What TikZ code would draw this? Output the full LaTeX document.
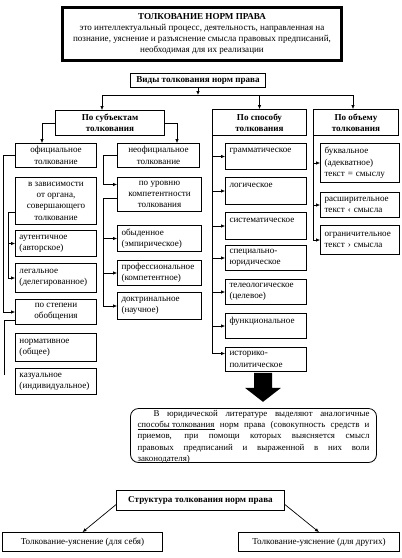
\documentclass[tikz,border=0pt]{standalone}
\usepackage{fontspec}
\setmainfont{Liberation Serif}
\usetikzlibrary{arrows.meta}
\pgfdeclarelayer{edgelayer}
\pgfdeclarelayer{nodelayer}
\pgfsetlayers{edgelayer,nodelayer,main}
\newcommand{\fs}{\fontsize{9.1}{11.3}\selectfont}
\newcommand{\fr}{\fontsize{8.9}{11.3}\selectfont}
\tikzstyle{none}=[inner sep=0pt, font=\fr]
\tikzstyle{box}=[draw=black, fill=white, line width=0.7pt, inner sep=1pt, align=center, font=\fs]
\tikzstyle{head}=[box, font=\fs\bfseries]
\tikzstyle{title}=[box, line width=3pt]
\tikzstyle{rbox}=[draw=black, line width=0.8pt, rounded corners=8pt]
\tikzstyle{edge}=[draw=black, line width=0.7pt]
\tikzstyle{arrow}=[edge, -{Latex[length=4pt,width=3.5pt]}]
\tikzset{lbox/.style={box, align=left, inner xsep=4pt, text width=#1}}

\begin{document}
\begin{tikzpicture}[x=1pt, y=-1pt]
				\useasboundingbox (0,0) rectangle (402,558);
				\begin{pgfonlayer}{nodelayer}
					\node [style=title, minimum width=279, minimum height=53] (0) at (202, 34) {\textbf{ТОЛКОВАНИЕ НОРМ ПРАВА}\\это интеллектуальный процесс, деятельность, направленная на\\познание, уяснение и разъяснение смысла правовых предписаний,\\необходимая для их реализации};
					\node [style=head, minimum width=135, minimum height=14] (1) at (198, 80.5) {Виды толкования норм права};
					\node [style=head, minimum width=109, minimum height=25] (2) at (110, 123) {По субъектам\\толкования};
					\node [style=head, minimum width=94, minimum height=26] (3) at (259.5, 122.5) {По способу\\толкования};
					\node [style=head, minimum width=85, minimum height=26] (4) at (356, 122.5) {По объему\\толкования};
					\node [style=box, minimum width=81, minimum height=24] (5) at (56, 155.5) {официальное\\толкование};
					\node [style=box, minimum width=82, minimum height=24] (6) at (158.5, 155.5) {неофициальное\\толкование};
					\node [style=box, minimum width=81, minimum height=47] (7) at (56, 201) {в зависимости\\от органа,\\совершающего\\толкование};
					\node [lbox=73, minimum height=26] (8) at (56, 243.5) {аутентичное\\(авторское)};
					\node [lbox=73, minimum height=29] (9) at (56, 278) {легальное\\(делегированное)};
					\node [style=box, minimum width=81, minimum height=25] (10) at (56, 312) {по степени\\обобщения};
					\node [lbox=73, minimum height=28] (11) at (56, 347.5) {нормативное\\(общее)};
					\node [lbox=73, minimum height=26] (12) at (56, 381.5) {казуальное\\(индивидуальное)};
					\node [style=box, minimum width=84, minimum height=34] (13) at (159.5, 194.5) {по уровню\\компетентности\\толкования};
					\node [lbox=76, minimum height=26] (14) at (159.5, 238.5) {обыденное\\(эмпирическое)};
					\node [lbox=76, minimum height=25] (15) at (159.5, 273) {профессиональное\\(компетентное)};
					\node [lbox=76, minimum height=27] (16) at (159.5, 306) {доктринальное\\(научное)};
					\node [lbox=73, minimum height=26] (17) at (266, 156.5) {грамматическое\\\mbox{}};
					\node [lbox=73, minimum height=27] (18) at (266, 191) {логическое\\\mbox{}};
					\node [lbox=73, minimum height=27] (19) at (266, 226) {систематическое\\\mbox{}};
					\node [lbox=73, minimum height=25] (20) at (266, 258) {специально-\\юридическое};
					\node [lbox=73, minimum height=25] (21) at (266, 292) {телеологическое\\(целевое)};
					\node [lbox=73, minimum height=25] (22) at (266, 326) {функциональное\\\mbox{}};
					\node [lbox=73, minimum height=24] (23) at (266, 359.5) {историко-\\политическое};
					\node [lbox=71, minimum height=39] (24) at (360, 163) {буквальное\\(адекватное)\\текст = смыслу};
					\node [lbox=71, minimum height=25] (25) at (360, 205) {расширительное\\текст ‹ смысла};
					\node [lbox=71, minimum height=29] (26) at (360, 240) {ограничительное\\текст › смысла};
					\node [style=rbox, minimum width=246, minimum height=54] (27) at (253.5, 435.5) {};
					\node [style=none, anchor=north, text width=232pt, align=justify] (28) at (253.5, 410) {\hspace*{16pt}В юридической литературе выделяют аналогичные\linebreak \underline{способы толкования} норм права (совокупность средств и\linebreak приемов, при помощи которых выясняется смысл\linebreak правовых предписаний и выраженной в них воли\linebreak законодателя)};
					\node [style=head, minimum width=168, minimum height=20] (29) at (200.5, 500.5) {Структура толкования норм права};
					\node [style=box, minimum width=160, minimum height=19] (30) at (82.5, 542) {Толкование-уяснение (для себя)};
					\node [style=box, minimum width=161, minimum height=19] (31) at (319, 542) {Толкование-уяснение (для других)};
				\end{pgfonlayer}
				\begin{pgfonlayer}{edgelayer}
					\coordinate (j1) at (102, 95);
					\coordinate (j2) at (353, 95);
					\draw [style=arrow] (1) -- (1 |- j1);
					\draw [style=edge] (j1) -- (j2);
					\draw [style=arrow] (j1) -- (j1 |- 2.north);
					\draw [style=arrow] (3.north |- j1) -- (3.north);
					\draw [style=arrow] (j2) -- (j2 |- 4.north);
					\draw [style=arrow] (2.west) -| ([xshift=-14pt]5.north);
					\draw [style=arrow] (2.east) -| ([xshift=18.5pt]6.north);
					\draw [style=arrow] (5.west) -- ++(-12, 0) |- (10.west);
					\draw [style=arrow] ([yshift=-11pt]7.west) -- ++(-7, 0) coordinate (a7) |- (8.west);
					\draw [style=arrow] (a7) |- (9.west);
					\draw [style=edge] ([yshift=-8pt]10.west) -- ++(-11, 0) -- ++(0, 55);
					\draw [style=arrow] (6.west) -- ++(-14, 0) |- ([yshift=10pt]13.west);
					\draw [style=arrow] ([yshift=-4pt]13.west) -- ++(-14, 0) coordinate (a13) |- (14.west);
					\draw [style=arrow] (a13) |- (15.west);
					\draw [style=arrow] (a13) |- (16.west);
					\draw [style=arrow] (3.south west) |- (17.west);
					\draw [style=arrow] (3.south west) |- (18.west);
					\draw [style=arrow] (3.south west) |- (19.west);
					\draw [style=arrow] (3.south west) |- (20.west);
					\draw [style=arrow] (3.south west) |- (21.west);
					\draw [style=arrow] (3.south west) |- (22.west);
					\draw [style=arrow] (3.south west) |- ([yshift=6pt]23.west);
					\draw [style=arrow] (4.south west) |- (24.west);
					\draw [style=arrow] (4.south west) |- (25.west);
					\draw [style=arrow] (4.south west) |- (26.west);
					\fill [shift={([xshift=-3pt]23.south)}] (-9, 1) -- (-9, 16) -- (-18, 16) -- (0, 30) -- (18, 16) -- (9, 16) -- (9, 1) -- cycle;
					\draw [style=arrow] ([yshift=-4pt]29.west) -- (30.north);
					\draw [style=arrow] ([yshift=-4pt]29.east) -- (31.north);
				\end{pgfonlayer}
\end{tikzpicture}
\end{document}
